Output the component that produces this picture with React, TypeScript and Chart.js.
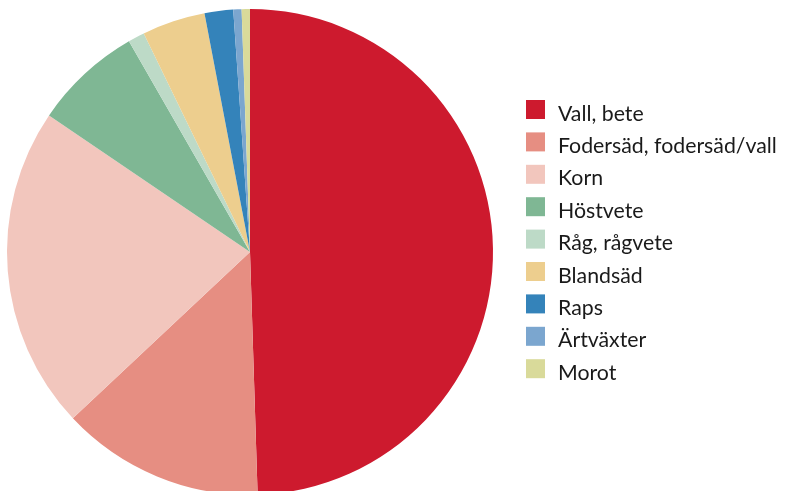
import React, { useEffect, useRef } from "react";
import { Chart, registerables } from "chart.js";

Chart.register(...registerables);

const categories = [
  "Vall, bete",
  "Fodersäd, fodersäd/vall",
  "Korn",
  "Höstvete",
  "Råg, rågvete",
  "Blandsäd",
  "Raps",
  "Ärtväxter",
  "Morot",
];
const shares = [49.5, 13.5, 21.5, 7.2, 1.1, 4.2, 1.9, 0.55, 0.55];
const colors = [
  "#CD1A2E",
  "#E68E82",
  "#F2C6BD",
  "#7FB794",
  "#BDDAC7",
  "#EDCE8E",
  "#3483BA",
  "#7BA6CF",
  "#D9DA9A",
];

const legendPlugin = {
  id: "customLegend",
  afterDraw(chart: any) {
    const ctx = chart.ctx;
    const labels: string[] = chart.data.labels;
    const bg: string[] = chart.data.datasets[0].backgroundColor;
    ctx.save();
    ctx.font = "21.3px Lato";
    ctx.textBaseline = "alphabetic";
    ctx.textAlign = "left";
    labels.forEach((lab, i) => {
      const top = 100 + i * 32.4;
      ctx.fillStyle = bg[i];
      ctx.fillRect(526, top, 19, 19);
      ctx.fillStyle = "#1a1a1a";
      ctx.fillText(lab, 558, top + 20.5);
    });
    ctx.restore();
  },
};

export default function App() {
  const ref = useRef<HTMLCanvasElement | null>(null);
  useEffect(() => {
    if (!ref.current) return;
    const chart = new Chart(ref.current, {
      type: "pie",
      data: {
        labels: categories,
        datasets: [
          {
            data: shares,
            backgroundColor: colors,
            borderWidth: 0,
          },
        ],
      },
      options: {
        responsive: false,
        animation: false,
        layout: { padding: { left: 0, right: 285, top: 9, bottom: 9 } },
        plugins: {
          legend: { display: false },
          tooltip: { enabled: false },
        },
      },
      plugins: [legendPlugin],
    });
    return () => chart.destroy();
  }, []);
  return (
    <div
      style={{
        position: "fixed",
        left: 0,
        top: 0,
        width: 785,
        height: 491,
        overflow: "hidden",
        background: "#fff",
      }}
    >
      <canvas ref={ref} width={785} height={504} style={{ display: "block" }} />
    </div>
  );
}
